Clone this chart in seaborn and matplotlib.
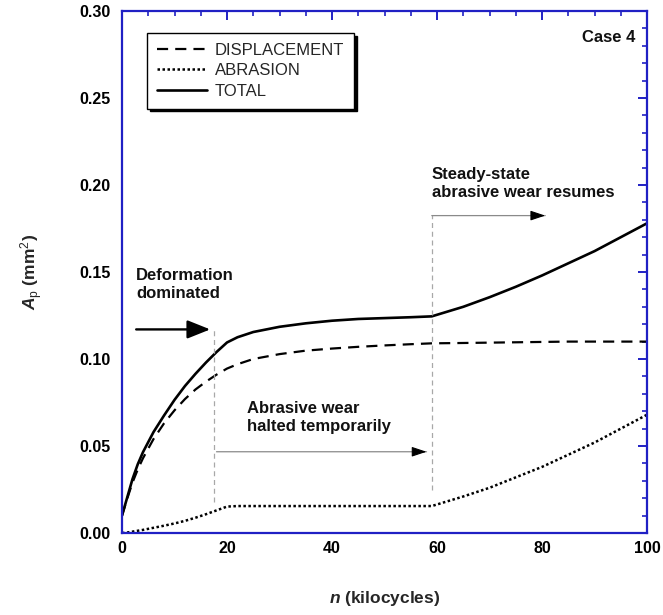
import numpy as np
import pandas as pd
import matplotlib
matplotlib.use("Agg")
import matplotlib.pyplot as plt
from matplotlib.ticker import MultipleLocator, FormatStrFormatter
import seaborn as sns

# Wear-area history for Case 4 (kilocycles vs. projected area, mm^2)
cycles = [0, 1, 2, 3, 4, 6, 8, 10, 12, 14, 16, 18, 20, 22, 25, 30, 35, 40,
          45, 50, 55, 59, 65, 70, 75, 80, 85, 90, 95, 100]
displacement = [0.010, 0.0198, 0.029, 0.0365, 0.043, 0.054, 0.063, 0.0705,
                0.077, 0.0825, 0.087, 0.091, 0.0945, 0.097, 0.100, 0.1028,
                0.1048, 0.106, 0.107, 0.1078, 0.1085, 0.109, 0.1092, 0.1094,
                0.1096, 0.1098, 0.110, 0.110, 0.110, 0.110]
abrasion = [0.000, 0.0003, 0.0008, 0.0013, 0.0018, 0.003, 0.0042, 0.0055,
            0.007, 0.0088, 0.0108, 0.013, 0.0152, 0.0155, 0.0155, 0.0155,
            0.0155, 0.0155, 0.0155, 0.0155, 0.0155, 0.0155, 0.021, 0.026,
            0.032, 0.038, 0.045, 0.052, 0.060, 0.068]
total = [0.010, 0.0205, 0.031, 0.0395, 0.0465, 0.058, 0.0675, 0.0765, 0.0845,
         0.0915, 0.098, 0.104, 0.1095, 0.1125, 0.1155, 0.1185, 0.1205, 0.122,
         0.123, 0.1235, 0.124, 0.1245, 0.130, 0.1355, 0.1415, 0.148, 0.155,
         0.162, 0.170, 0.178]
series_names = ["DISPLACEMENT", "ABRASION", "TOTAL"]

x_ticks = [0, 20, 40, 60, 80, 100]
y_ticks = [0.00, 0.05, 0.10, 0.15, 0.20, 0.25, 0.30]

sns.set_theme(style="white")
plt.rcParams["font.family"] = ["Liberation Sans", "DejaVu Sans"]
plt.rcParams["mathtext.fontset"] = "custom"
plt.rcParams["mathtext.rm"] = "Liberation Sans"
plt.rcParams["mathtext.it"] = "Liberation Sans:italic:bold"
plt.rcParams["mathtext.bf"] = "Liberation Sans:bold"

df = pd.DataFrame({"n": cycles, series_names[0]: displacement,
                   series_names[1]: abrasion, series_names[2]: total})

fig = plt.figure(figsize=(6.63, 6.15), dpi=100)
ax = fig.add_axes([0.184, 0.1333, 0.792, 0.8489])

styles = {
    "DISPLACEMENT": dict(linestyle=(0, (5.0, 3.2)), linewidth=1.6),
    "ABRASION": dict(linestyle=(0, (1, 1)), linewidth=1.8),
    "TOTAL": dict(linestyle="-", linewidth=1.9),
}
for name in series_names:
    sns.lineplot(data=df, x="n", y=name, ax=ax, color="black", label=name,
                 **styles[name])

ax.set_xlim(0, 100)
ax.set_ylim(0, 0.30)
ax.set_xticks(x_ticks)
ax.set_yticks(y_ticks)
ax.xaxis.set_minor_locator(MultipleLocator(5))
ax.yaxis.set_minor_locator(MultipleLocator(0.01))
ax.yaxis.set_major_formatter(FormatStrFormatter("%.2f"))

frame_blue = "#2020c4"
for sp in ax.spines.values():
    sp.set_color(frame_blue)
    sp.set_linewidth(1.6)
ax.tick_params(which="both", direction="in", top=True, right=True,
               color=frame_blue, labelcolor="black")
ax.tick_params(which="major", length=6.5, width=1.4, labelsize=11.5)
ax.tick_params(which="minor", length=3.5, width=1.2)
ax.tick_params(axis="y", which="major", pad=8)
ax.tick_params(axis="x", which="major", pad=6)
for lbl in ax.get_xticklabels() + ax.get_yticklabels():
    lbl.set_fontweight("bold")

ax.set_xlabel(r"$n$ (kilocycles)", fontsize=12.5, fontweight="bold")
ax.set_ylabel(r"$A_\mathrm{p}$ (mm$^\mathrm{2}$)", fontsize=12.5,
              fontweight="bold")
ax.xaxis.label.set_va("center")
ax.yaxis.label.set_va("center")
ax.xaxis.set_label_coords(0.5, -0.1245)
ax.yaxis.set_label_coords(-0.171, 0.5)

# Phase boundaries
guide = dict(color="#a8a8a8", linewidth=0.9, linestyle=(0, (4, 3)))
ax.plot([17.6, 17.6], [0.018, 0.118], **guide)
ax.plot([59.0, 59.0], [0.025, 0.183], **guide)

# Annotations
txt = dict(fontsize=12, fontweight="bold", color="#111111", ha="left",
           va="center", linespacing=1.25)
ax.text(2.7, 0.143, "Deformation\ndominated", **txt)
ax.text(23.8, 0.0664, "Abrasive wear\nhalted temporarily", **txt)
ax.text(59.0, 0.201, "Steady-state\nabrasive wear resumes", **txt)
ax.text(97.7, 0.285, "Case 4", fontsize=12, fontweight="bold",
        color="#111111", ha="right", va="center")

ax.annotate("", xy=(16.8, 0.117), xytext=(2.7, 0.117),
            arrowprops=dict(arrowstyle="-|>,head_length=1.0,head_width=0.4",
                            color="black", lw=1.7, mutation_scale=14,
                            shrinkA=0, shrinkB=0))


def thin_arrow(x0, x1, y):
    ax.annotate("", xy=(x1, y), xytext=(x0, y),
                arrowprops=dict(arrowstyle="-", color="#8a8a8a", lw=0.9,
                                shrinkA=0, shrinkB=0))
    ax.annotate("", xy=(x1, y), xytext=(x1 - 2.5, y),
                arrowprops=dict(arrowstyle="-|>,head_length=0.9,head_width=0.3",
                                color="black", lw=0.8, mutation_scale=10,
                                shrinkA=0, shrinkB=0))


thin_arrow(18.0, 58.0, 0.0467)
thin_arrow(59.0, 80.6, 0.1824)

leg = ax.legend(loc="upper left", bbox_to_anchor=(0.0476, 0.958),
                borderaxespad=0, fontsize=12, frameon=True, fancybox=False,
                shadow={"color": "black", "alpha": 1.0}, handlelength=3.0,
                handletextpad=0.45, borderpad=0.6, labelspacing=0.32)
leg.get_frame().set_edgecolor("black")
leg.get_frame().set_linewidth(1.0)

fig.savefig("out.png", dpi=100)
